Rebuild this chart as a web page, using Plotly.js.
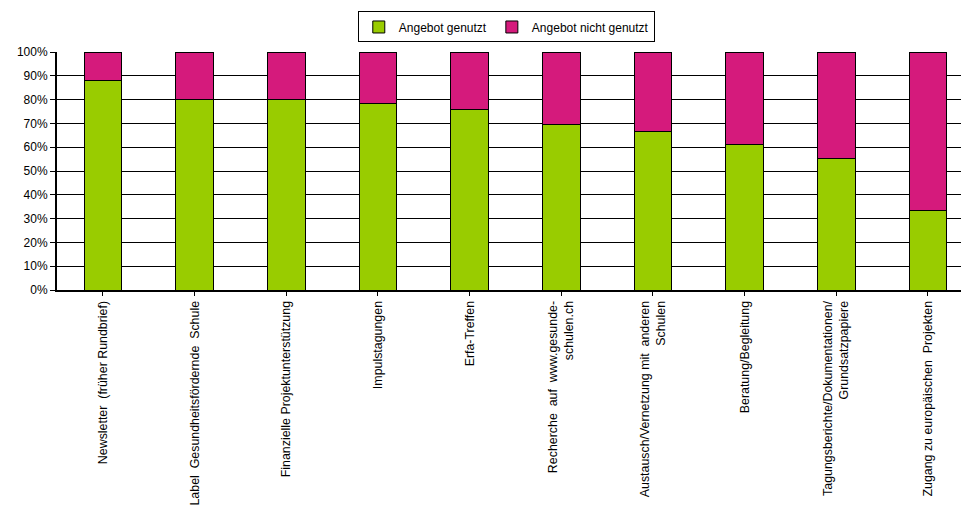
<!DOCTYPE html>
<html>
<head>
<meta charset="utf-8">
<script src="https://cdn.plot.ly/plotly-3.0.1.min.js"></script>
<style>html,body{margin:0;padding:0;background:#fff;}#chart{width:961px;height:511px;}</style>
</head>
<body>
<div id="chart"></div>
<script>
var categories = [
  "Newsletter  (früher Rundbrief)",
  "Label  Gesundheitsfördernde  Schule",
  "Finanzielle Projektunterstützung",
  "Impulstagungen",
  "Erfa-Treffen",
  "Recherche  auf  www.gesunde-<br>schulen.ch",
  "Austausch/Vernetzung mit  anderen<br>Schulen",
  "Beratung/Begleitung",
  "Tagungsberichte/Dokumentationen/<br>Grundsatzpapiere",
  "Zugang zu europäischen  Projekten"
];
var genutzt = [88, 80, 80, 78.5, 76, 69.5, 66.5, 61.3, 55.4, 33.2];
var nichtGenutzt = genutzt.map(function(v){ return +(100 - v).toFixed(1); });
var yTickVals = [0,10,20,30,40,50,60,70,80,90,100];
var yTickText = ["0%","10%","20%","30%","40%","50%","60%","70%","80%","90%","100%"];

var idx = categories.map(function(_, i){ return i; });
var lineStyle = {color: "#000000", width: 1};

var traces = [
  {type: "bar", name: "Angebot genutzt", x: idx, y: genutzt,
   marker: {color: "#99CC00", line: lineStyle}, hoverinfo: "y"},
  {type: "bar", name: "Angebot nicht genutzt", x: idx, y: nichtGenutzt,
   marker: {color: "#D51A7C", line: lineStyle}, hoverinfo: "y"}
];

var layout = {
  width: 961, height: 511,
  margin: {l: 57, r: 0, t: 52, b: 221},
  paper_bgcolor: "#ffffff", plot_bgcolor: "#ffffff",
  barmode: "stack",
  bargap: 0.59,
  font: {family: "Liberation Sans, Arial, sans-serif", size: 12, color: "#000"},
  showlegend: true,
  legend: {
    orientation: "h", x: 0.497, xanchor: "center", y: 1.04, yanchor: "bottom",
    yref: "paper",
    bordercolor: "#000", borderwidth: 1, bgcolor: "#fff",
    font: {family: "Liberation Sans, Arial, sans-serif", size: 12},
    traceorder: "normal", itemwidth: 30
  },
  xaxis: {
    range: [-0.5, 9.36],
    tickmode: "array",
    tickvals: idx,
    ticktext: categories,
    tickangle: -90,
    tickson: "boundaries",
    ticks: "outside", ticklen: 4, tickcolor: "#000", tickwidth: 1,
    showline: true, linecolor: "#000", linewidth: 2,
    showgrid: false, zeroline: false,
    automargin: false,
    tickfont: {family: "Liberation Sans, Arial, sans-serif", size: 12.4}
  },
  yaxis: {
    range: [0, 100],
    tickmode: "array",
    tickvals: yTickVals,
    ticktext: yTickText,
    ticks: "outside", ticklen: 5, tickcolor: "#000", tickwidth: 1,
    showline: true, linecolor: "#000", linewidth: 2,
    showgrid: true, gridcolor: "#000", gridwidth: 1,
    zeroline: false,
    automargin: false,
    tickfont: {family: "Liberation Sans, Arial, sans-serif", size: 12}
  }
};

Plotly.newPlot("chart", traces, layout, {displayModeBar: false, staticPlot: true});
</script>
</body>
</html>
